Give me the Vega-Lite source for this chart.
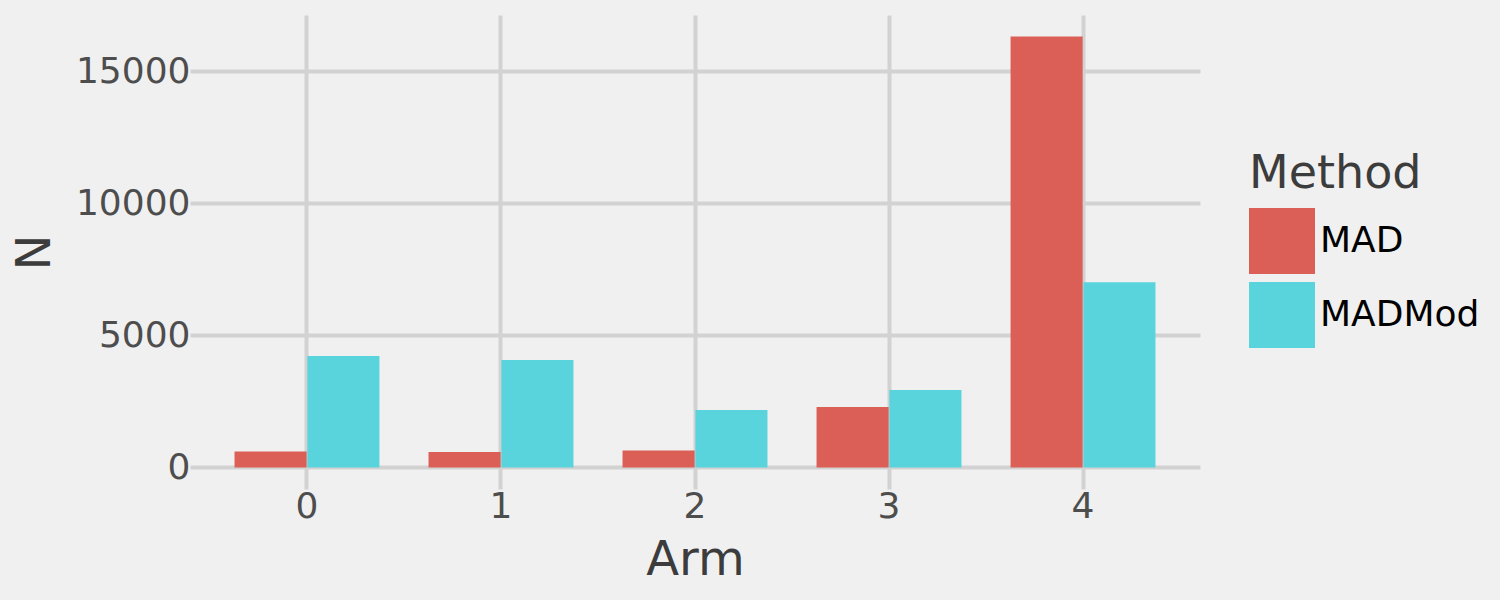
{
  "$schema": "https://vega.github.io/schema/vega-lite/v6.json",
  "autosize": {"type": "none"},
  "width": 1010,
  "height": 474,
  "padding": {"left": 190, "top": 15, "right": 300, "bottom": 111},
  "background": "#F0F0F0",
  "config": {
    "view": {"stroke": null},
    "font": "DejaVu Sans",
    "axis": {"gridColor": "#D2D2D2", "gridWidth": 4, "domain": false, "ticks": false, "labelFont": "DejaVu Sans", "titleFont": "DejaVu Sans", "labelColor": "#4D4D4D", "titleColor": "#3C3C3C", "labelFontSize": 36, "titleFontSize": 48, "titleFontWeight": "normal"}
  },
  "data": {
    "values": [
      {"Arm": "0", "Method": "MAD", "N": 600},
      {"Arm": "0", "Method": "MADMod", "N": 4225},
      {"Arm": "1", "Method": "MAD", "N": 590},
      {"Arm": "1", "Method": "MADMod", "N": 4070},
      {"Arm": "2", "Method": "MAD", "N": 640},
      {"Arm": "2", "Method": "MADMod", "N": 2175},
      {"Arm": "3", "Method": "MAD", "N": 2290},
      {"Arm": "3", "Method": "MADMod", "N": 2935},
      {"Arm": "4", "Method": "MAD", "N": 16320},
      {"Arm": "4", "Method": "MADMod", "N": 7010}
    ]
  },
  "mark": {"type": "bar"},
  "encoding": {
    "x": {
      "field": "Arm", "type": "ordinal",
      "scale": {"paddingInner": 0.253, "paddingOuter": 0.2295},
      "axis": {"labelAngle": 0, "labelPadding": 0, "titlePadding": 12, "grid": true, "bandPosition": 0.5}
    },
    "xOffset": {"field": "Method", "type": "nominal", "scale": {"paddingInner": 0.01}},
    "y": {
      "field": "N", "type": "quantitative",
      "scale": {"domain": [-816, 17136], "nice": false, "zero": false},
      "axis": {"values": [0, 5000, 10000, 15000], "format": "d", "labelPadding": 0, "titlePadding": 16}
    },
    "y2": {"datum": 0},
    "color": {
      "field": "Method", "type": "nominal",
      "scale": {"range": ["#DC5F57", "#59D4DC"]},
      "legend": {
        "orient": "none", "legendX": 1059, "legendY": 137,
        "symbolType": "square", "symbolSize": 4356, "symbolStrokeWidth": 0, "symbolOpacity": 1,
        "titleFontSize": 46, "titleFontWeight": "normal", "titleColor": "#3C3C3C", "titleFont": "DejaVu Sans", "titleLimit": 400,
        "labelFontSize": 36, "labelColor": "#000000", "labelFont": "DejaVu Sans", "labelOffset": 5, "labelLimit": 400,
        "rowPadding": 8, "titlePadding": 10
      }
    }
  }
}
